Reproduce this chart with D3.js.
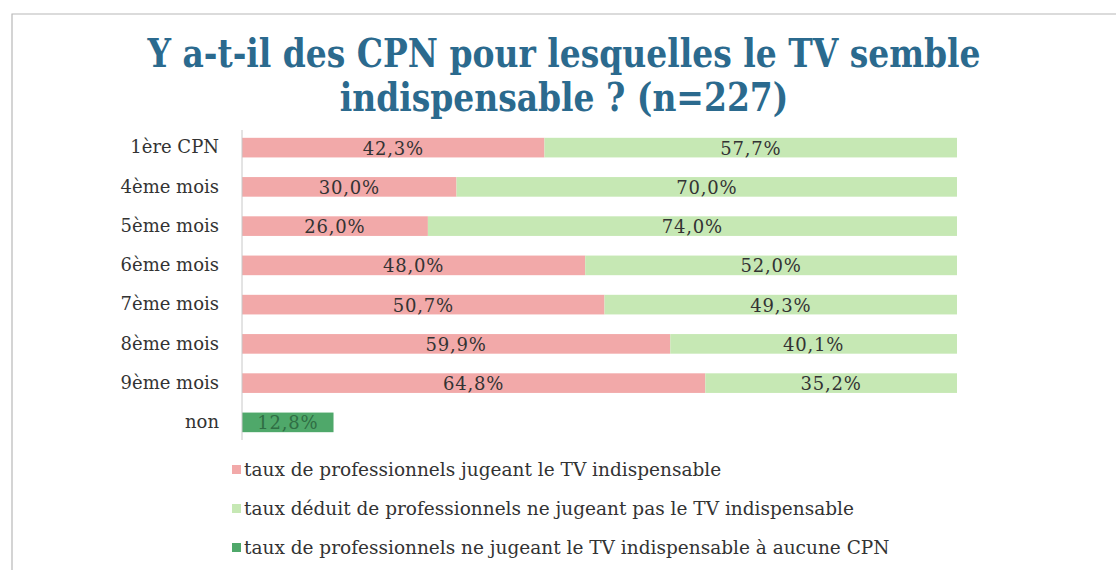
<!DOCTYPE html>
<html>
<head>
<meta charset="utf-8">
<script src="https://cdn.jsdelivr.net/npm/d3@7"></script>
<style>
  body { margin: 0; background: #fff; }
</style>
</head>
<body>
<div id="chart"></div>
<script>
// data
const categories = ["1ère CPN", "4ème mois", "5ème mois", "6ème mois", "7ème mois", "8ème mois", "9ème mois", "non"];
const indispensable = [42.3, 30.0, 26.0, 48.0, 50.7, 59.9, 64.8, 0];
const pasIndispensable = [57.7, 70.0, 74.0, 52.0, 49.3, 40.1, 35.2, 0];
const aucuneCPN = [0, 0, 0, 0, 0, 0, 0, 12.8];
const seriesNames = [
  "taux de professionnels jugeant le TV indispensable",
  "taux déduit de professionnels ne jugeant pas le TV indispensable",
  "taux de professionnels ne jugeant le TV indispensable à aucune CPN"
];
const colors = ["#f2a9a9", "#c6e8b4", "#4fa86a"];

var serif = "'DejaVu Serif', 'Liberation Serif', serif";
var W = 1116, H = 570;
var margin = {left: 242, right: 159};

var svg = d3.select("#chart").append("svg")
  .attr("width", W).attr("height", H);

// frame
svg.append("path")
  .attr("d", "M12,570 L12,14 L1116,14")
  .attr("fill", "none")
  .attr("stroke", "#b8b8b8")
  .attr("stroke-width", 1.2);

// title (narrowed a bit, the original font is condensed)
var titleLines = ["Y a-t-il des CPN pour lesquelles le TV semble", "indispensable ? (n=227)"];
titleLines.forEach(function(t, i) {
  svg.append("text")
    .attr("transform", "translate(564," + (67 + i * 44) + ") scale(0.845,1)")
    .attr("text-anchor", "middle")
    .attr("font-family", serif)
    .attr("font-size", 39).attr("font-weight", "bold")
    .attr("fill", "#2b6a8e")
    .text(t);
});

var x = d3.scaleLinear().domain([0, 100]).range([margin.left, W - margin.right]);
var y = d3.scaleBand().domain(categories).range([128, 442]).paddingInner(0.5).paddingOuter(0.25);

// stacked data
var rows = categories.map(function(c, i) {
  return {cat: c, a: indispensable[i], b: pasIndispensable[i], c: aucuneCPN[i]};
});
var stack = d3.stack().keys(["a", "b", "c"])(rows);

var g = svg.append("g");
stack.forEach(function(layer, k) {
  g.selectAll(".bar" + k)
    .data(layer)
    .enter()
    .append("rect")
    .attr("x", function(d) { return x(d[0]); })
    .attr("width", function(d) { return x(d[1]) - x(d[0]); })
    .attr("y", function(d) { return y(d.data.cat); })
    .attr("height", y.bandwidth())
    .attr("fill", colors[k]);

  g.selectAll(".lab" + k)
    .data(layer.filter(function(d) { return d[1] - d[0] > 0; }))
    .enter()
    .append("text")
    .attr("x", function(d) { return (x(d[0]) + x(d[1])) / 2; })
    .attr("y", function(d) { return y(d.data.cat) + y.bandwidth() / 2 + 7; })
    .attr("text-anchor", "middle")
    .attr("font-family", serif)
    .attr("font-size", 18)
    .attr("letter-spacing", 0.8)
    .attr("fill", k == 2 ? "#2f6e44" : "#333")
    .text(function(d) { return d3.format(".1f")(d[1] - d[0]).replace(".", ",") + "%"; });
});

// axis
var axis = svg.append("g")
  .attr("transform", "translate(" + margin.left + ",0)")
  .call(d3.axisLeft(y).tickSize(0).tickPadding(23));
axis.select(".domain").attr("stroke", "#c8c8c8").attr("d", "M0,130V440");
axis.selectAll("text")
  .attr("font-family", serif)
  .attr("font-size", 18)
  .attr("fill", "#333");
axis.attr("font-family", null).attr("font-size", null);

// legend
var leg = svg.append("g");
seriesNames.forEach(function(s, i) {
  var ly = 476 + i * 39;
  leg.append("rect")
    .attr("x", 232).attr("y", ly - 11).attr("width", 9).attr("height", 9)
    .attr("fill", colors[i]);
  leg.append("text")
    .attr("x", 244).attr("y", ly)
    .attr("font-family", serif)
    .attr("font-size", 18.5)
    .attr("fill", "#333")
    .text(s);
});
</script>
</body>
</html>
